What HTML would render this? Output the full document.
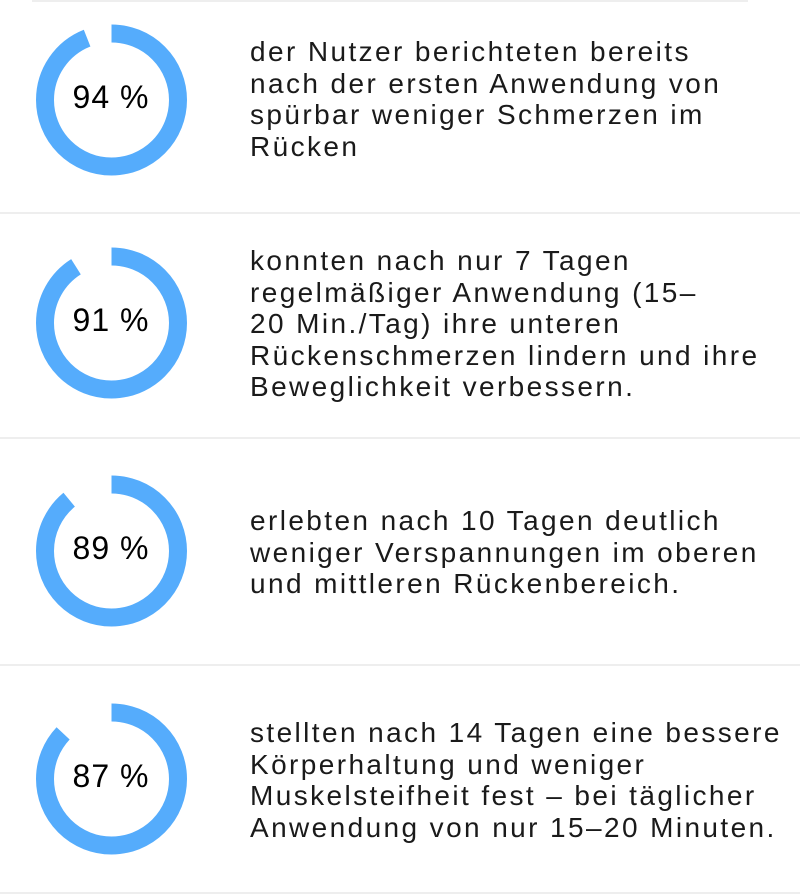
<!DOCTYPE html>
<html><head><meta charset="utf-8"><style>
body{margin:0;width:800px;height:896px;background:#fff;position:relative;overflow:hidden;font-family:"Liberation Sans",sans-serif;}
.sep{position:absolute;left:0;width:800px;height:2px;background:#eeeeee;}
.t{position:absolute;left:250px;font-size:28px;line-height:31.6px;letter-spacing:2.4px;color:#1a1a1a;white-space:nowrap;}
svg{position:absolute;left:0;top:0}
</style></head><body>
<div class="sep" style="top:0;left:32px;width:716px"></div>
<div class="sep" style="top:212px"></div>
<div class="sep" style="top:437px"></div>
<div class="sep" style="top:664px"></div>
<div class="sep" style="top:892px"></div>
<svg width="800" height="896">
<g fill="none" stroke="#55acfc" stroke-width="18">
<circle cx="111.5" cy="100" r="66.5" stroke-dasharray="392.7 500" transform="rotate(-90 111.5 100)"/>
<circle cx="111.5" cy="323" r="66.5" stroke-dasharray="380.2 500" transform="rotate(-90 111.5 323)"/>
<circle cx="111.5" cy="551" r="66.5" stroke-dasharray="371.8 500" transform="rotate(-90 111.5 551)"/>
<circle cx="111.5" cy="779" r="66.5" stroke-dasharray="363.5 500" transform="rotate(-90 111.5 779)"/>
</g>
<g font-family="Liberation Sans, sans-serif" font-size="32" fill="#000" text-anchor="middle" letter-spacing="1">
<text x="111" y="108">94 %</text>
<text x="111" y="331">91 %</text>
<text x="111" y="559">89 %</text>
<text x="111" y="787">87 %</text>
</g>
</svg>
<div class="t" style="top:36px">der Nutzer berichteten bereits<br>nach der ersten Anwendung von<br>spürbar weniger Schmerzen im<br>Rücken</div>
<div class="t" style="top:245px">konnten nach nur 7 Tagen<br>regelmäßiger Anwendung (15–<br>20 Min./Tag) ihre unteren<br>Rückenschmerzen lindern und ihre<br>Beweglichkeit verbessern.</div>
<div class="t" style="top:505px">erlebten nach 10 Tagen deutlich<br>weniger Verspannungen im oberen<br>und mittleren Rückenbereich.</div>
<div class="t" style="top:717px">stellten nach 14 Tagen eine bessere<br>Körperhaltung und weniger<br>Muskelsteifheit fest – bei täglicher<br>Anwendung von nur 15–20 Minuten.</div>
</body></html>
